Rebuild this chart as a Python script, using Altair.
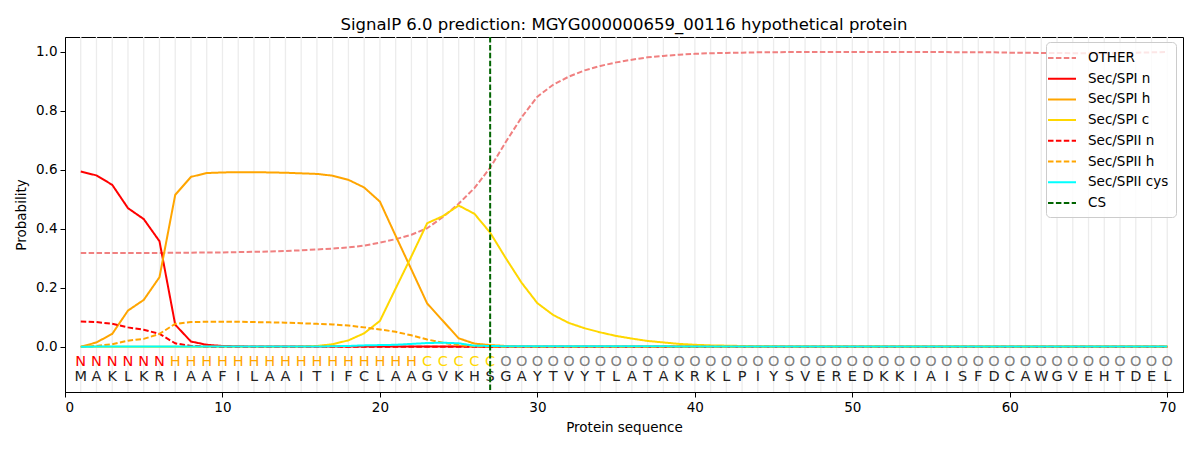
import altair as alt
import pandas as pd

positions = list(range(1, 71))
sequence = list("MAKLKRIAAFILAAITIFCLAAGVKHSGAYTVYTLATAKRKLPIYSVEREDKKIAISFDCAWGVEHTDEL")
region_labels = list("N" * 6 + "H" * 16 + "C" * 5 + "O" * 43)

other = [0.318, 0.318, 0.318, 0.318, 0.318, 0.318, 0.319, 0.319, 0.320, 0.320,
         0.321, 0.322, 0.323, 0.325, 0.327, 0.330, 0.333, 0.337, 0.343, 0.353,
         0.365, 0.380, 0.402, 0.440, 0.485, 0.538, 0.607, 0.695, 0.778, 0.848,
         0.888, 0.916, 0.937, 0.952, 0.964, 0.973, 0.981, 0.986, 0.990, 0.993,
         0.995, 0.996, 0.997, 0.998, 0.998, 0.999, 0.999, 0.999, 0.999, 0.999,
         0.999, 0.999, 0.999, 0.999, 0.999, 0.999, 0.998, 0.998, 0.998, 0.997,
         0.997, 0.996, 0.996, 0.995, 0.995, 0.995, 0.996, 0.997, 0.998, 0.999]
spi_n = [0.594, 0.581, 0.549, 0.470, 0.433, 0.358, 0.075, 0.018, 0.007, 0.003,
         0.002, 0.001, 0.001, 0.001, 0.001, 0.001, 0.001, 0.001, 0.001, 0.001,
         0.001, 0.001, 0.001, 0.001, 0.001, 0.001, 0.000, 0.000, 0.000, 0.000] + [0.0] * 40
spi_h = [0.000, 0.015, 0.044, 0.123, 0.159, 0.236, 0.515, 0.576, 0.589, 0.591,
         0.592, 0.592, 0.591, 0.590, 0.588, 0.586, 0.580, 0.566, 0.540, 0.492,
         0.376, 0.262, 0.147, 0.088, 0.029, 0.011, 0.006, 0.003, 0.002, 0.001] + [0.001] * 10 + [0.0] * 30
spi_c = [0.0] * 14 + [0.001, 0.003, 0.009, 0.022, 0.046, 0.088,
                      0.198, 0.307, 0.419, 0.443, 0.479, 0.451, 0.387, 0.300, 0.217, 0.148,
                      0.108, 0.081, 0.063, 0.049, 0.037, 0.028, 0.020, 0.015, 0.010, 0.007,
                      0.005, 0.004, 0.003, 0.002, 0.002] + [0.001] * 25
spii_n = [0.086, 0.084, 0.078, 0.066, 0.058, 0.044, 0.012, 0.003, 0.001] + [0.0] * 61
spii_h = [0.000, 0.003, 0.009, 0.021, 0.027, 0.044, 0.078, 0.084, 0.085, 0.085,
          0.085, 0.084, 0.083, 0.082, 0.080, 0.078, 0.076, 0.072, 0.066, 0.059,
          0.051, 0.039, 0.025, 0.014, 0.006, 0.002, 0.001] + [0.0] * 43
spii_cys = [0.000] + [0.001] * 15 + [0.002, 0.003, 0.005, 0.006, 0.007, 0.010, 0.013, 0.014,
                                     0.012, 0.004, 0.003, 0.002] + [0.002] * 10 + [0.001] * 32
cs_position = [27]

series_names = ["OTHER", "Sec/SPI n", "Sec/SPI h", "Sec/SPI c",
                "Sec/SPII n", "Sec/SPII h", "Sec/SPII cys", "CS"]
series_colors = ["#f08080", "#ff0000", "#ffa500", "#ffd700",
                 "#ff0000", "#ffa500", "#00ffff", "#006400"]
series_dashes = [[5.5, 2.4], [1, 0], [1, 0], [1, 0],
                 [5.5, 2.4], [5.5, 2.4], [1, 0], [5.5, 2.4]]
label_colors = {"N": "#ff0000", "H": "#ffa500", "C": "#ffd700", "O": "#808080"}

FONT = "DejaVu Sans"
W, H = 1118, 355

rows = []
for name, vals in zip(series_names[:7], [other, spi_n, spi_h, spi_c, spii_n, spii_h, spii_cys]):
    for p, v in zip(positions, vals):
        rows.append({"pos": p, "prob": v, "series": name})
lines_df = pd.DataFrame(rows)
seq_df = pd.DataFrame({"pos": positions, "aa": sequence, "lab": region_labels})
cs_df = pd.DataFrame({"pos": cs_position, "series": ["CS"]})
grid_df = pd.DataFrame({"pos": positions})

xscale = alt.Scale(domain=[0, 71], nice=False, zero=False)
yscale = alt.Scale(domain=[-0.153, 1.05], nice=False, zero=False)

xaxis = alt.Axis(values=[0, 10, 20, 30, 40, 50, 60, 70], format="d", title="Protein sequence",
                 grid=False, tickSize=5, labelPadding=3, titlePadding=7)
yaxis = alt.Axis(values=[0, 0.2, 0.4, 0.6, 0.8, 1.0], format=".1f", title="Probability",
                 grid=False, tickSize=5, labelPadding=3, titlePadding=7)

color_enc = alt.Color("series:N", scale=alt.Scale(domain=series_names, range=series_colors),
                      title=None, sort=series_names,
                      legend=alt.Legend(orient="none", legendX=981, legendY=5,
                                        symbolType="M-1.75,0H1.75", symbolSize=256,
                                        symbolStrokeWidth=2, labelFontSize=13.5,
                                        labelFont=FONT, rowPadding=4.7,
                                        fillColor="rgba(255,255,255,0.8)",
                                        strokeColor="#cccccc", cornerRadius=4,
                                        padding=7, labelOffset=17))
dash_enc = alt.StrokeDash("series:N", scale=alt.Scale(domain=series_names, range=series_dashes),
                          title=None, sort=series_names)

grid = alt.Chart(grid_df).mark_rule(color="#ececec", strokeWidth=1.3).encode(
    x=alt.X("pos:Q", scale=xscale, axis=xaxis))

lines = alt.Chart(lines_df).mark_line(strokeWidth=2).encode(
    x=alt.X("pos:Q", scale=xscale, axis=xaxis),
    y=alt.Y("prob:Q", scale=yscale, axis=yaxis),
    color=color_enc, strokeDash=dash_enc,
    detail="series:N")

cs = alt.Chart(cs_df).mark_rule(strokeWidth=2).encode(
    x=alt.X("pos:Q", scale=xscale, axis=xaxis),
    color=color_enc, strokeDash=dash_enc)

label_layers = []
for lab, col in label_colors.items():
    label_layers.append(
        alt.Chart(seq_df).transform_filter(alt.datum.lab == lab).mark_text(
            font=FONT, fontSize=14.5, color=col, baseline="alphabetic", align="center").encode(
            x=alt.X("pos:Q", scale=xscale, axis=xaxis),
            y=alt.datum(-0.0658, scale=yscale),
            text="lab:N"))

aa_text = alt.Chart(seq_df).mark_text(
    font=FONT, fontSize=14.5, color="#222222", baseline="alphabetic", align="center").encode(
    x=alt.X("pos:Q", scale=xscale, axis=xaxis),
    y=alt.datum(-0.1166, scale=yscale),
    text="aa:N")

chart = alt.layer(grid, *label_layers, aa_text, lines, cs).properties(
    width=W, height=H,
    title=alt.TitleParams("SignalP 6.0 prediction: MGYG000000659_00116 hypothetical protein",
                          font=FONT, fontSize=16.5, fontWeight="normal", anchor="middle",
                          offset=3, color="black"),
    autosize=alt.AutoSizeParams(type="none"),
    padding={"left": 57, "top": 29, "right": 9, "bottom": 50},
).configure_view(stroke="black", strokeWidth=1).configure_axis(
    labelFont=FONT, titleFont=FONT, labelFontSize=13.5, titleFontSize=13.5,
    titleFontWeight="normal", labelColor="black", titleColor="black",
    domainColor="black", tickColor="black", domainWidth=1
)

chart.save("out.html", embed_options={"renderer": "svg", "actions": False})
